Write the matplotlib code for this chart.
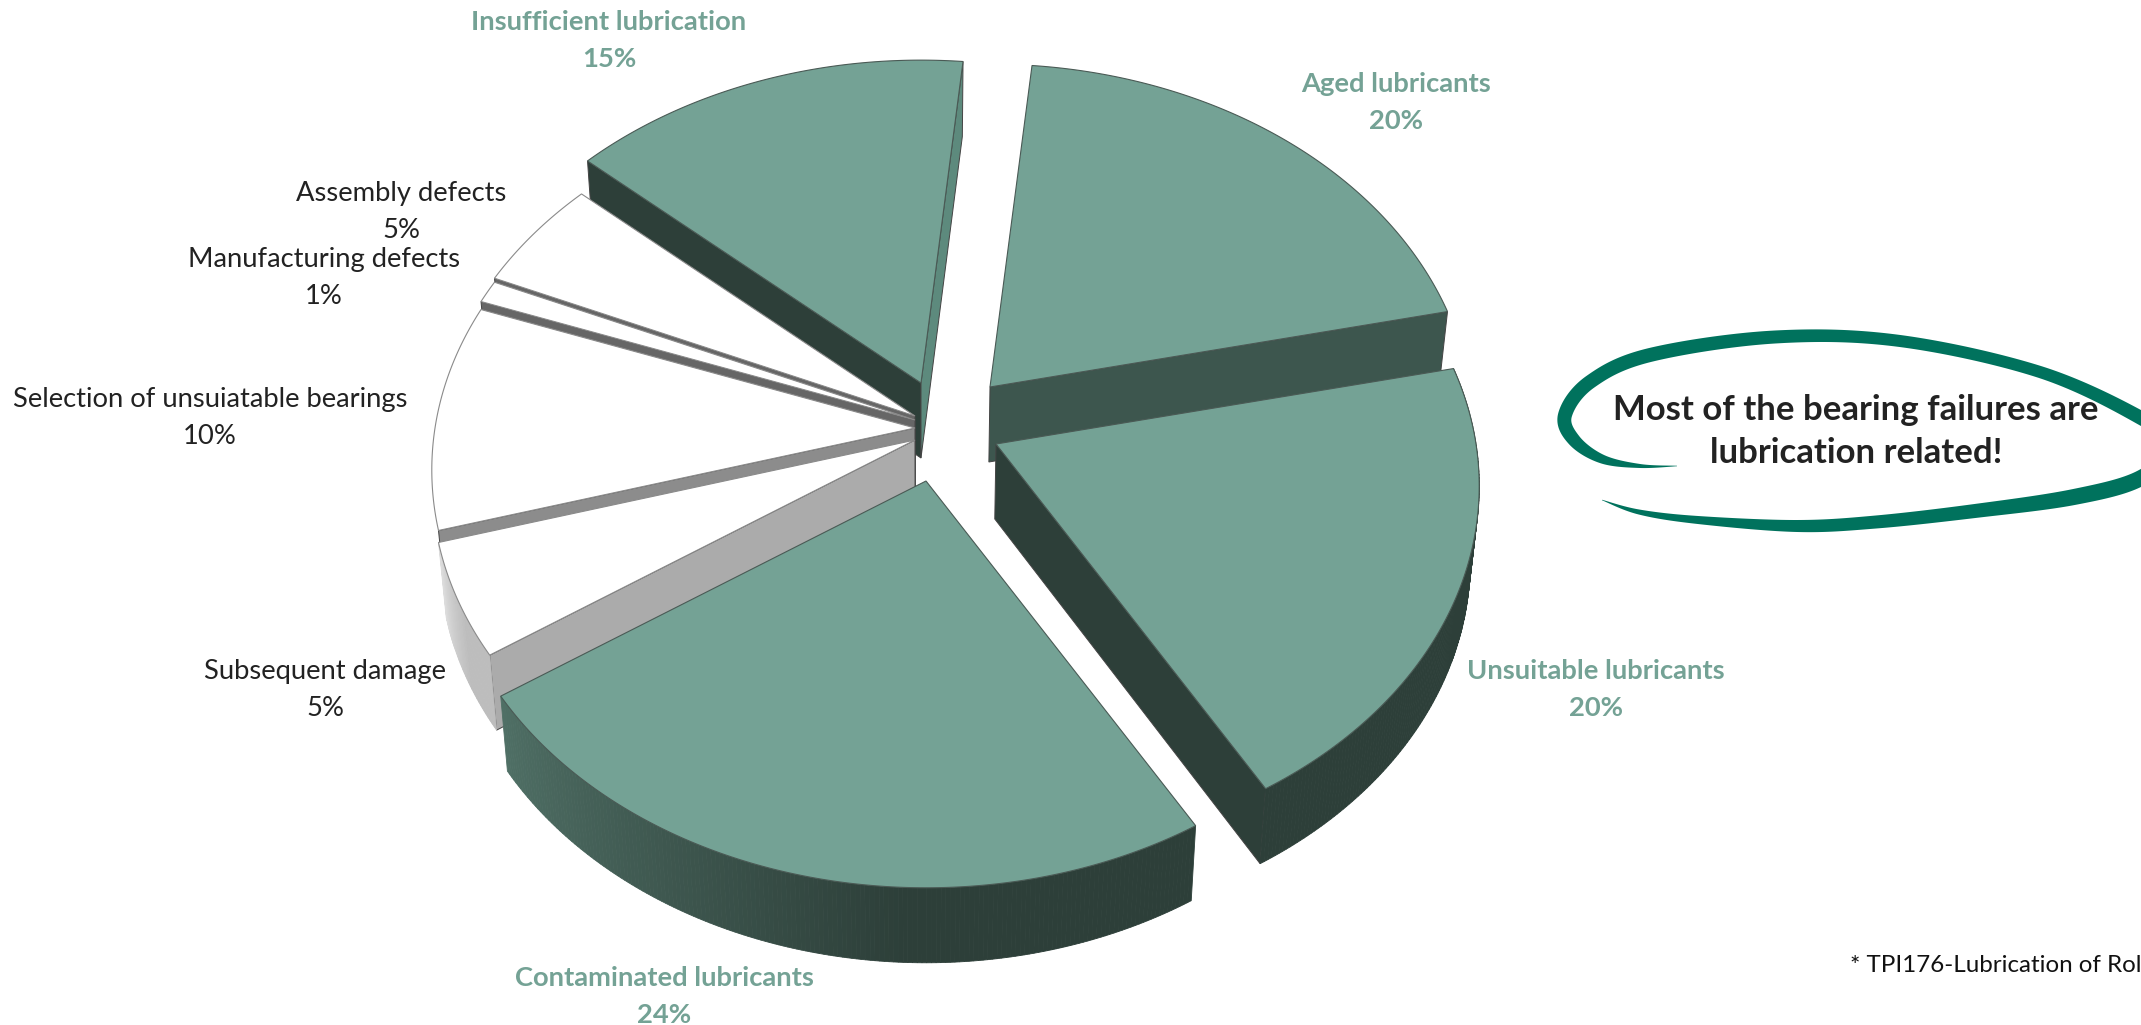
import numpy as np
import matplotlib
matplotlib.use("Agg")
import matplotlib.pyplot as plt
from matplotlib.patches import Polygon

# ---- data (clockwise, starting at the gap at the top) ----
categories = ["Aged lubricants", "Unsuitable lubricants", "Contaminated lubricants",
              "Subsequent damage", "Selection of unsuiatable bearings",
              "Manufacturing defects", "Assembly defects", "Insufficient lubrication"]
values = [20, 20, 24, 5, 10, 1, 5, 15]

# ---- styling ----
W, H = 2141, 1025
TOP_G, TOP_W = "#74a295", "#ffffff"
top_colors = [TOP_G, TOP_G, TOP_G, TOP_W, TOP_W, TOP_W, TOP_W, TOP_G]
edge_colors = ["#4a5a55"] * 3 + ["#8a8a8a"] * 4 + ["#4a5a55"]
apexes = [(990, 387), (996, 444), (926, 481), (915, 440),
          (915, 428), (915, 420), (915, 416), (921, 383)]
face_first = [None, None, None, "#ababab", "#8c8c8c", "#666666", "#666666", "#2d3f39"]
face_last = ["#3d564e", "#2d3f39", None, None, None, None, None, "#5d8a7d"]
rim_from = [None, "#2d3f39", "#4f6f65", "#dcdcdc", None, None, None, None]
rim_to = [None, "#2d3f39", "#2d3f39", "#bdbdbd", None, None, None, None]
paint_order = [7, 0, 6, 5, 4, 3, 1, 2]
START, RX, RY, PERSP, DEPTH, TAPER, XMID = 84.4, 480, 360, 0.115, 75, 0.016, 920

label_xy = [(1396, 84), (1596, 671), (664, 978), (325, 671),
            (210, 399), (324, 260), (401, 193), (609, 22)]
label_colors = ["#74a295"] * 3 + ["#222222"] * 4 + ["#74a295"]
label_weight = ["bold"] * 3 + ["normal"] * 4 + ["bold"]
LINE_GAP = 37
LABEL_SIZE = 19.7

plt.rcParams["font.family"] = ["Lato", "DejaVu Sans"]
fig = plt.figure(figsize=(W / 100, H / 100), dpi=100, facecolor="white")
ax = fig.add_axes([0, 0, 1, 1])
ax.set_xlim(0, W)
ax.set_ylim(H, 0)
ax.axis("off")


def rim(apex, angles):
    t = np.radians(angles)
    u, v = np.cos(t), np.sin(t)
    f = 1 / (1 + PERSP * v)
    return np.column_stack([apex[0] + RX * u * f, apex[1] - RY * v * f])


def lower(pts):
    pts = np.atleast_2d(pts)
    return np.column_stack([pts[:, 0] - (pts[:, 0] - XMID) * TAPER, pts[:, 1] + DEPTH])


def hex2rgb(c):
    return np.array(matplotlib.colors.to_rgb(c))


shares = np.array(values, dtype=float) / np.sum(values) * 360
edges = START - np.concatenate([[0], np.cumsum(shares)])

for i in paint_order:
    a0, a1 = edges[i], edges[i + 1]
    apex = np.array(apexes[i], dtype=float)
    angs = np.linspace(a0, a1, max(int(abs(a1 - a0) * 2), 12))
    arc = rim(apex, angs)
    low = lower(arc)
    alow = lower(apex)[0]
    if face_first[i]:
        ax.add_patch(Polygon([apex, arc[0], low[0], alow], closed=True, fc=face_first[i], ec="#444444", lw=0.7))
    if face_last[i]:
        ax.add_patch(Polygon([apex, arc[-1], low[-1], alow], closed=True, fc=face_last[i], ec="#444444", lw=0.7))
    if rim_from[i]:
        c0, c1 = hex2rgb(rim_from[i]), hex2rgb(rim_to[i])
        n = len(arc) - 1
        for k in range(n):
            s = k / max(n - 1, 1)
            s2 = min((1 - s) / 0.62, 1)
            col = c0 * (1 - s2) + c1 * s2
            ax.add_patch(Polygon([arc[k], arc[k + 1], low[k + 1], low[k]], closed=True,
                                 fc=col, ec=col, lw=0.6))
    ax.add_patch(Polygon(np.vstack([apex, arc]), closed=True, fc=top_colors[i],
                         ec=edge_colors[i], lw=0.8, joinstyle="miter"))

# ---- labels ----
for name, v, (x, y), c, w in zip(categories, values, label_xy, label_colors, label_weight):
    ax.text(x, y, name, color=c, fontsize=LABEL_SIZE, fontweight=w, ha="center", va="center")
    ax.text(x, y + LINE_GAP, f"{v}%", color=c, fontsize=LABEL_SIZE, fontweight=w, ha="center", va="center")

# ---- hand-drawn bubble ----
stroke = np.array([
    (1677, 466, 0.5), (1640, 466, 4), (1602, 459, 9), (1574, 440, 13), (1565, 415, 14), (1590, 382, 14),
    (1650, 355, 14), (1775, 337, 13), (1900, 341, 12), (2040, 372, 12), (2141, 418, 14),
    (2172, 445, 14), (2141, 478, 16), (2074, 497, 16), (1975, 511, 14), (1876, 522, 13),
    (1797, 526, 12), (1698, 520, 8), (1639, 512, 5), (1602, 500, 0.5)], dtype=float)


def catmull(P, n=24):
    P = np.vstack([P[0], P, P[-1]])
    out = []
    for i in range(1, len(P) - 2):
        for t in np.linspace(0, 1, n, endpoint=False):
            out.append(0.5 * (2 * P[i] + (P[i + 1] - P[i - 1]) * t
                              + (2 * P[i - 1] - 5 * P[i] + 4 * P[i + 1] - P[i + 2]) * t ** 2
                              + (3 * P[i] - P[i - 1] - 3 * P[i + 1] + P[i + 2]) * t ** 3))
    out.append(P[-2])
    return np.array(out)


s = catmull(stroke)
d = np.gradient(s[:, :2], axis=0)
nrm = np.column_stack([-d[:, 1], d[:, 0]]) / np.maximum(np.hypot(d[:, 0], d[:, 1]), 1e-6)[:, None]
hw = np.maximum(s[:, 2], 0.2)[:, None] / 2
ax.add_patch(Polygon(np.vstack([s[:, :2] + nrm * hw, (s[:, :2] - nrm * hw)[::-1]]),
                     closed=True, fc="#00725d", ec="none"))

ax.text(1856, 410, "Most of the bearing failures are", color="#222222", fontsize=25, fontweight="bold", ha="center", va="center")
ax.text(1856, 453, "lubrication related!", color="#222222", fontsize=25, fontweight="bold", ha="center", va="center")
ax.text(1850, 965, "* TPI176-Lubrication of Rol", color="#111111", fontsize=17.4, ha="left", va="center")

fig.savefig("out.png", dpi=100)
